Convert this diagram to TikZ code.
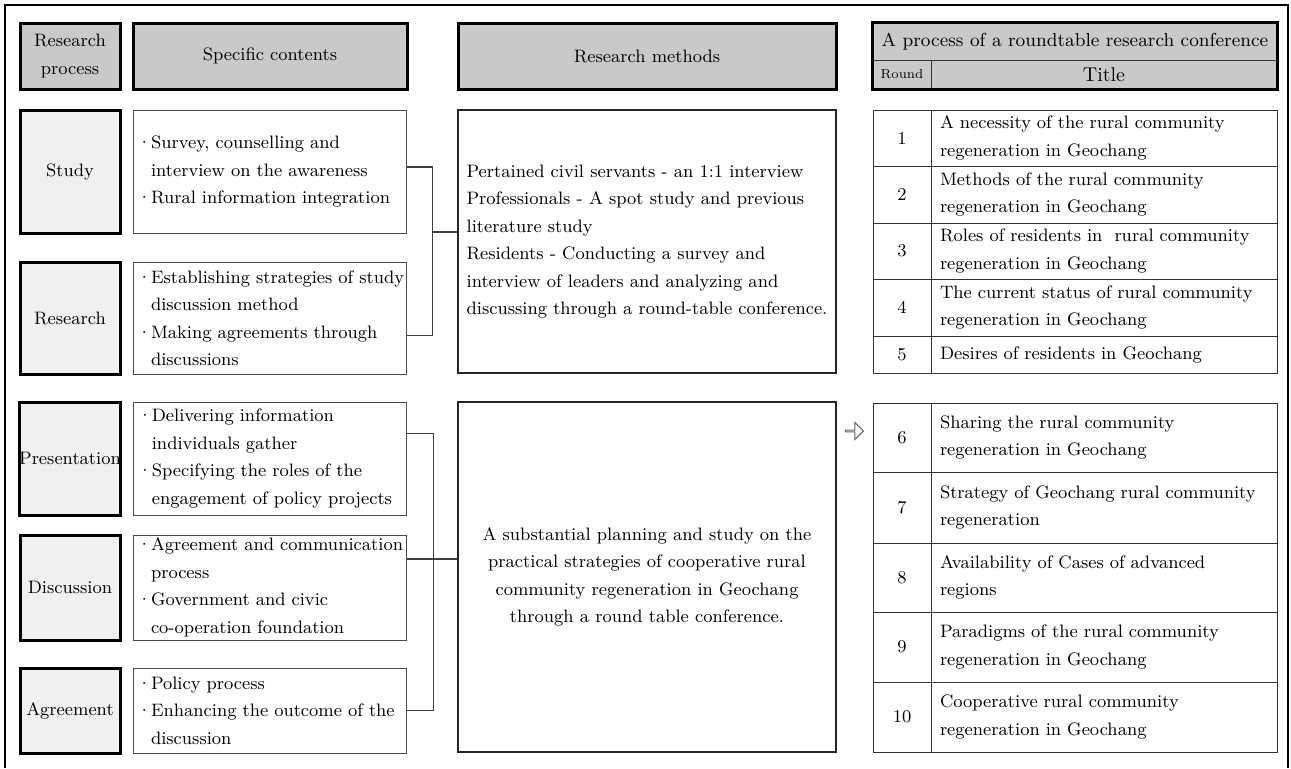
\documentclass[tikz,border=0pt]{standalone}
\usepackage{tikz}
\usetikzlibrary{positioning,shapes.arrows}
\newcommand\dotitem[1]{\mbox{\makebox[7pt][l]{\textperiodcentered}#1}}
\newcommand\dotind[1]{\mbox{\hspace*{7pt}#1}}
\begin{document}
\begin{tikzpicture}[x=0.5pt,y=-0.5pt,font=\fontsize{9}{13.75}\selectfont,
  hd/.style={rectangle,draw,line width=1.5pt,fill=black!21,minimum height=33pt,align=center,inner sep=0pt},
  st/.style={rectangle,draw,line width=1.5pt,fill=black!6,minimum width=50pt,align=center,inner sep=0pt},
  ct/.style={rectangle,draw=black!70,line width=0.5pt,text width=132.5pt,align=left,inner xsep=2pt,inner ysep=0pt},
  mt/.style={rectangle,draw=black!85,line width=0.6pt,minimum width=189pt,inner sep=0pt},
  tc/.style={rectangle,draw=black!80,line width=0.5pt,fill=black!21,inner sep=0pt},
  rw/.style={rectangle,draw=black!80,line width=0.5pt,inner sep=0pt},
  ln/.style={draw=black!75,line width=0.6pt}]
  \useasboundingbox (0,0) rectangle (1291,768);
  \draw[line width=0.75pt] (5,768) -- (5,5) -- (1288,5) -- (1288,768);

  \node[hd,minimum width=50pt] (hp) at (70,56) {Research\\process};
  \node[hd,minimum width=137pt] (hc) at (270,56) {Specific contents};
  \node[hd,minimum width=189pt] (hm) at (647,56) {Research methods};
  \node[tc,minimum width=202pt,minimum height=18.5pt,font=\fontsize{9.4}{11}\selectfont] (ht) at (1075,41.5) {A process of a roundtable research conference};
  \node[tc,minimum width=29pt,minimum height=14.5pt,font=\fontsize{6.5}{8}\selectfont] (hr) at (902,74.5) {Round};
  \node[tc,minimum width=173pt,minimum height=14.5pt,font=\fontsize{10}{12}\selectfont] (hti) at (1104,74.5) {Title};
  \draw[line width=1.5pt] (ht.north west) rectangle (hti.south east);

  \node[st,minimum height=61.5pt] (s1) at (70,171.5) {Study};
  \node[st,minimum height=56pt] (s2) at (70,318) {Research};
  \node[st,minimum height=56.5pt] (s3) at (70,458.5) {Presentation};
  \node[st,minimum height=52.5pt] (s4) at (70,587.5) {Discussion};
  \node[st,minimum height=42.5pt] (s5) at (70,710.5) {Agreement};

  \node[ct,minimum height=61.5pt,right=5.5pt of s1] (c1) {\dotitem{Survey, counselling and}\\\dotind{interview on the awareness}\\\dotitem{Rural information integration}};
  \node[ct,minimum height=56pt,right=5.5pt of s2] (c2) {\dotitem{Establishing strategies of study}\\\dotind{discussion method}\\\dotitem{Making agreements through}\\\dotind{discussions}};
  \node[ct,minimum height=56.5pt,right=5.5pt of s3] (c3) {\dotitem{Delivering information}\\\dotind{individuals gather}\\\dotitem{Specifying the roles of the}\\\dotind{engagement of policy projects}};
  \node[ct,minimum height=52.5pt,right=5.5pt of s4] (c4) {\dotitem{Agreement and communication}\\\dotind{process}\\\dotitem{Government and civic}\\\dotind{co-operation foundation}};
  \node[ct,minimum height=42.5pt,right=5.5pt of s5] (c5) {\dotitem{Policy process}\\\dotitem{Enhancing the outcome of the}\\\dotind{discussion}};

  \node[mt,align=left,minimum height=131.5pt] (m1) at (647,241.5) {Pertained civil servants - an 1:1 interview\\Professionals - A spot study and previous\\literature study\\Residents - Conducting a survey and\\interview of leaders and analyzing and\\discussing through a round-table conference.};
  \node[mt,align=center,minimum height=175pt] (m2) at (647,577) {A substantial planning and study on the\\practical strategies of cooperative rural\\community regeneration in Geochang\\through a round table conference.};

  \draw[ln] ([yshift=2.25pt]c1.east) -- ++(13pt,0) |- ([yshift=-8.75pt]c2.east);
  \coordinate (bt) at (432,232);
  \draw[ln] (bt) -- (bt -| m1.west);
  \draw[ln] ([yshift=12.5pt]c3.east) -- ++(13pt,0) |- (c5.east);
  \draw[ln] ([yshift=14.25pt]c4.east) -- ([yshift=14.25pt]c4.east -| m2.west);

  \node[single arrow,draw=black!60,line width=0.5pt,minimum height=9pt,minimum width=8.5pt,single arrow head extend=2.25pt,inner sep=0pt] (ar) at (854,431) {};

  \foreach \n/\ya/\yb/\t in {1/110/166/{A necessity of the rural community\\regeneration in Geochang},
    2/166/223/{Methods of the rural community\\regeneration in Geochang},
    3/223/279/{Roles of residents in\ \ rural community\\regeneration in Geochang},
    4/279/336/{The current status of rural community\\regeneration in Geochang},
    5/336/373/{Desires of residents in Geochang},
    6/403/472/{Sharing the rural community\\regeneration in Geochang},
    7/472/543/{Strategy of Geochang rural community\\regeneration},
    8/543/612/{Availability of Cases of advanced\\regions},
    9/612/682/{Paradigms of the rural community\\regeneration in Geochang},
    10/682/752/{Cooperative rural community\\regeneration in Geochang}}{
    \pgfmathsetmacro\h{(\yb-\ya)/2}
    \node[rw,minimum width=29pt,minimum height=\h pt] (r\n) at (902,{(\ya+\yb)/2}) {\n};
    \node[rw,minimum height=\h pt,text width=164pt,inner xsep=4.5pt,align=left] (t\n) at (1104,{(\ya+\yb)/2}) {\t};
  }
\end{tikzpicture}
\end{document}
